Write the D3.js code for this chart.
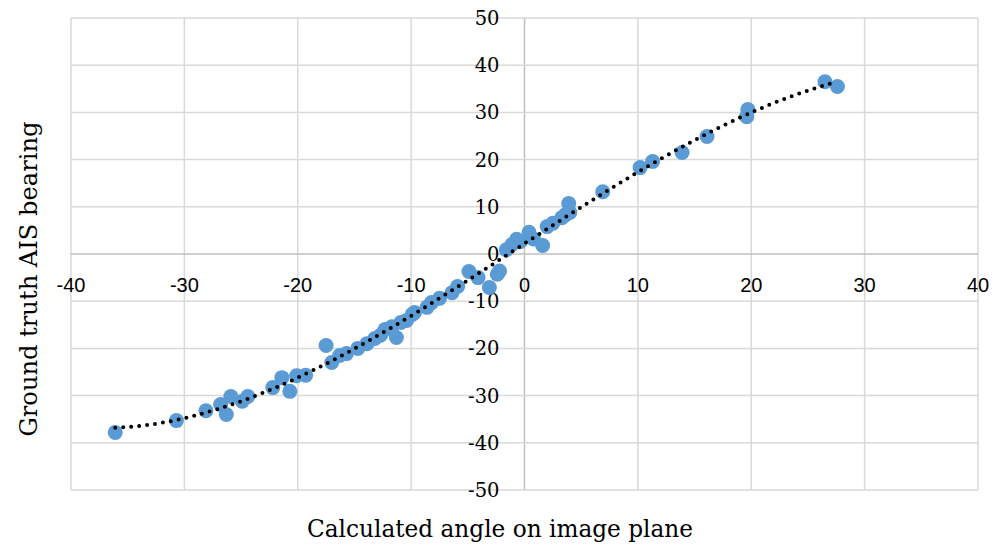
<!DOCTYPE html>
<html>
<head>
<meta charset="utf-8">
<script src="https://cdn.jsdelivr.net/npm/d3@7"></script>
<style>
  body { margin: 0; background: #fff; }
  svg { display: block; }
</style>
</head>
<body>
<div id="chart"></div>
<script>
// calculated angle on image plane (x) vs ground truth AIS bearing (y)
const calcAngle = [
  -36.1, -30.7, -28.1, -26.8, -26.3, -25.9, -24.9, -24.4, -22.2, -21.4,
  -20.7, -20.1, -19.3, -17.5, -17.0, -16.3, -15.7, -14.7, -13.9, -13.2,
  -12.7, -12.3, -11.3, -11.7, -10.9, -10.4, -9.9, -9.7, -8.6, -8.2,
  -7.5, -6.4, -5.9, -4.9, -4.1, -3.1, -2.4, -2.2, -1.6, -1.1,
  -0.7, -0.4, 0.4, 0.8, 1.6, 2.0, 2.5, 3.3, 3.6, 4.0,
  3.9, 6.9, 10.2, 11.3, 13.9, 16.1, 19.6, 19.7, 26.5, 27.6
];
const aisBearing = [
  -37.8, -35.3, -33.2, -31.9, -34.0, -30.2, -31.2, -30.2, -28.3, -26.2,
  -29.1, -25.8, -25.7, -19.4, -23.0, -21.5, -21.1, -20.0, -19.0, -17.9,
  -17.2, -16.0, -17.7, -15.4, -14.5, -14.1, -12.8, -12.4, -11.3, -10.3,
  -9.4, -8.2, -6.9, -3.7, -5.0, -7.1, -4.3, -3.6, 0.9, 2.0,
  3.1, 2.6, 4.6, 3.2, 1.8, 5.8, 6.5, 7.7, 8.3, 8.8,
  10.7, 13.2, 18.3, 19.6, 21.5, 24.9, 29.1, 30.6, 36.5, 35.5
];
const xTicks = [-40, -30, -20, -10, 0, 10, 20, 30, 40];
const yTicks = [-50, -40, -30, -20, -10, 0, 10, 20, 30, 40, 50];
const xTitle = "Calculated angle on image plane";
const yTitle = "Ground truth AIS bearing";

const W = 994, H = 547;
const plotL = 71, plotR = 978, plotT = 18, plotB = 490;
const serif = "'DejaVu Serif', 'Liberation Serif', serif";

const svg = d3.select("#chart").append("svg").attr("width", W).attr("height", H);

const x = d3.scaleLinear().domain([-40, 40]).range([plotL, plotR]);
const y = d3.scaleLinear().domain([-50, 50]).range([plotB, plotT]);

// grid
svg.append("g").selectAll("line").data(xTicks).join("line")
  .attr("x1", d => x(d)).attr("x2", d => x(d))
  .attr("y1", plotT).attr("y2", plotB)
  .attr("stroke", d => d === 0 ? "#bfbfbf" : "#d9d9d9").attr("stroke-width", 1.5);
svg.append("g").selectAll("line").data(yTicks).join("line")
  .attr("y1", d => y(d)).attr("y2", d => y(d))
  .attr("x1", plotL).attr("x2", plotR)
  .attr("stroke", d => d === 0 ? "#bfbfbf" : "#d9d9d9").attr("stroke-width", 1.5);

// tick labels
svg.append("g").selectAll("text").data(xTicks).join("text")
  .attr("x", d => x(d)).attr("y", y(0) + 38)
  .attr("text-anchor", "middle")
  .style("font-family", "'Liberation Sans', Arial, sans-serif")
  .style("font-size", "20px").attr("fill", "#000")
  .text(d => d);
svg.append("g").selectAll("text").data(yTicks).join("text")
  .attr("x", x(0) - 25).attr("y", d => y(d) + 7)
  .attr("text-anchor", "end")
  .style("font-family", serif)
  .style("font-size", "19.5px").attr("fill", "#000")
  .text(d => d);

// titles
svg.append("text").attr("x", 500).attr("y", 537)
  .attr("text-anchor", "middle")
  .attr("textLength", 386).attr("lengthAdjust", "spacingAndGlyphs")
  .style("font-family", serif).style("font-size", "24px")
  .text(xTitle);
svg.append("text")
  .attr("transform", "translate(37,279) rotate(-90)")
  .attr("text-anchor", "middle")
  .attr("textLength", 315).attr("lengthAdjust", "spacingAndGlyphs")
  .style("font-family", serif).style("font-size", "24px")
  .text(yTitle);

// points
const pts = calcAngle.map((v, i) => [v, aisBearing[i]]);
svg.append("g").selectAll("circle").data(pts).join("circle")
  .attr("cx", d => x(d[0])).attr("cy", d => y(d[1])).attr("r", 7.5)
  .attr("fill", "#5b9bd5");

// cubic polynomial trendline (least squares)
function polyFit(xs, ys, order) {
  const n = order + 1;
  const A = Array.from({length: n}, () => new Array(n + 1).fill(0));
  xs.forEach((xv, k) => {
    for (let i = 0; i < n; i++) {
      for (let j = 0; j < n; j++) A[i][j] += Math.pow(xv, i + j);
      A[i][n] += ys[k] * Math.pow(xv, i);
    }
  });
  for (let i = 0; i < n; i++) {
    let p = i;
    for (let r = i + 1; r < n; r++) if (Math.abs(A[r][i]) > Math.abs(A[p][i])) p = r;
    [A[i], A[p]] = [A[p], A[i]];
    for (let r = 0; r < n; r++) {
      if (r === i) continue;
      const f = A[r][i] / A[i][i];
      for (let c = i; c <= n; c++) A[r][c] -= f * A[i][c];
    }
  }
  return A.map((row, i) => row[n] / row[i]);
}
const coef = polyFit(calcAngle, aisBearing, 3);
const fx = v => coef.reduce((s, c, i) => s + c * Math.pow(v, i), 0);
const [xMin, xMax] = d3.extent(calcAngle);
const trend = d3.range(0, 201).map(i => xMin + (xMax - xMin) * i / 200);
svg.append("path")
  .datum(trend)
  .attr("d", d3.line().x(d => x(d)).y(d => y(fx(d))))
  .attr("fill", "none").attr("stroke", "#000").attr("stroke-width", 4)
  .attr("stroke-linecap", "round").attr("stroke-dasharray", "0,8");
</script>
</body>
</html>
